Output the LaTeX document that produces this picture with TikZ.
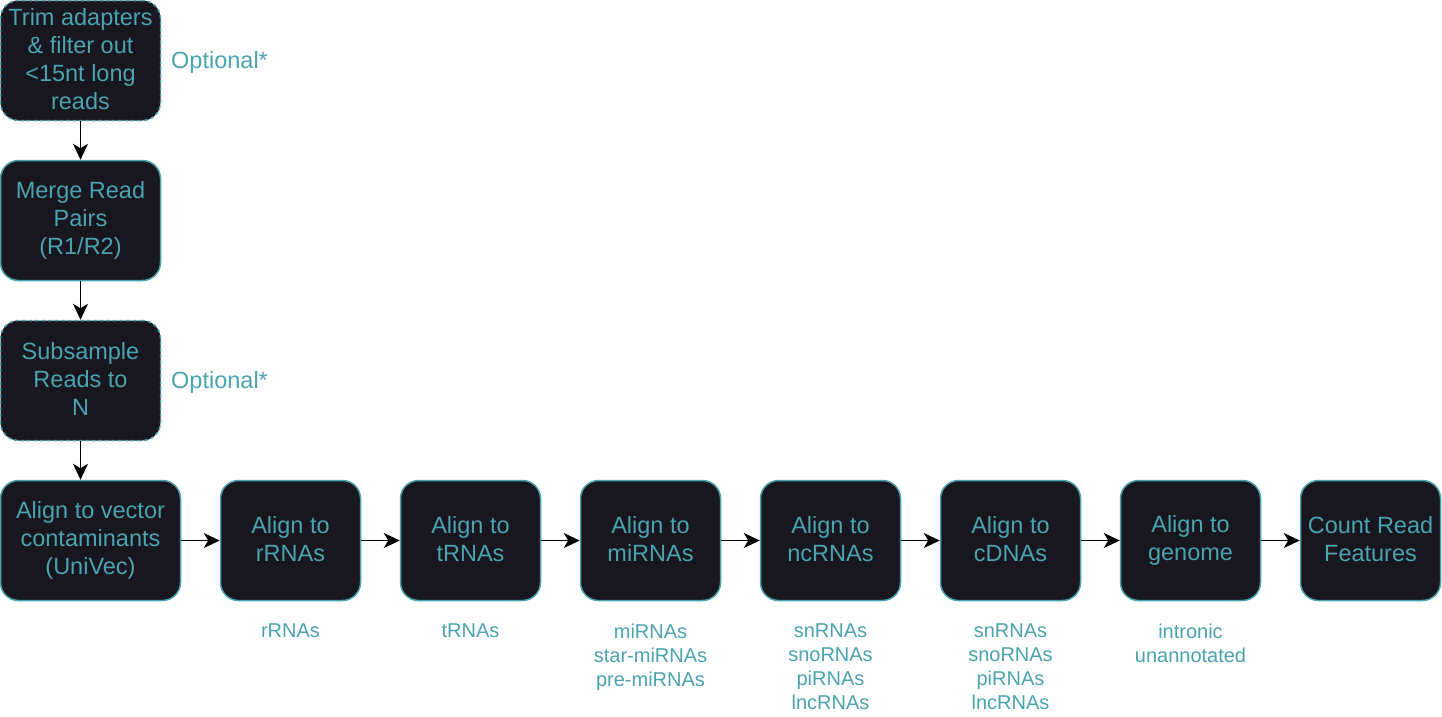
\documentclass[tikz,border=0pt]{standalone}
\usepackage{fontspec}
\setmainfont{Liberation Sans}
\usetikzlibrary{arrows.meta}
\definecolor{boxfill}{HTML}{18171F}
\definecolor{accent}{HTML}{4AA3AE}
% balanced line strut so that multi-line labels sit visually centred
\newcommand{\linestrut}{\rule[-0.12em]{0pt}{1.22em}}
\tikzset{
  stepbox/.style={draw=accent, fill=boxfill, line width=1.5pt, rounded corners=18pt,
    minimum height=120pt, inner sep=0pt, text=accent, align=center,
    font=\fontsize{23.5}{28.2}\selectfont,
    execute at begin node=\linestrut, execute at end node=\linestrut},
  narrowbox/.style={stepbox, minimum width=160pt},
  rowbox/.style={stepbox, minimum width=140pt},
  optbox/.style={dash pattern=on 3.5pt off 3pt},
  flow/.style={draw=black, line width=1.5pt, -{Stealth[length=16pt,width=15pt,inset=4.5pt]}},
  sidenote/.style={text=accent, anchor=west, inner sep=0pt, font=\fontsize{23.5}{28.2}\selectfont},
  kinds/.style={text=accent, anchor=north, align=center, inner sep=0pt, font=\fontsize{20}{24}\selectfont}
}
\begin{document}
\begin{tikzpicture}[x=1pt,y=-1pt]
\useasboundingbox (0,0) rectangle (1442,716);

% preprocessing column
\node[narrowbox, optbox] (trim) at (80.5,60.5) {Trim adapters\\\& filter out\\<15nt long\\reads};
\node[narrowbox] (merge) at (80.5,220.5) {Merge Read\\Pairs\\(R1/R2)};
\node[narrowbox, optbox] (sub) at (80.5,380.5) {Subsample\\Reads to\\N};
\node[sidenote] (opt1) at (171,62.5) {Optional*};
\node[sidenote] (opt2) at (171,382.5) {Optional*};

% alignment chain
\node[stepbox, minimum width=180pt] (vec) at (90.5,540.5) {Align to vector\\contaminants\\(UniVec)};
\node[rowbox] (rrna) at (290.5,540.5) {Align to\\rRNAs};
\node[rowbox] (trna) at (470.5,540.5) {Align to\\tRNAs};
\node[rowbox] (mirna) at (650.5,540.5) {Align to\\miRNAs};
\node[rowbox] (ncrna) at (830.5,540.5) {Align to\\ncRNAs};
\node[rowbox] (cdna) at (1010.5,540.5) {Align to\\cDNAs};
\node[rowbox] (genome) at (1190.5,540.5) {Align to\\genome};
\node[rowbox] (count) at (1370.5,540.5) {Count Read\\Features};

% feature classes under each step
\node[kinds] (krrna) at (290.5,624) {rRNAs};
\node[kinds] (ktrna) at (470.5,624) {tRNAs};
\node[kinds] (kmirna) at (650.5,624) {miRNAs\\star-miRNAs\\pre-miRNAs};
\node[kinds] (kncrna) at (830.5,624) {snRNAs\\snoRNAs\\piRNAs\\lncRNAs};
\node[kinds] (kcdna) at (1010.5,624) {snRNAs\\snoRNAs\\piRNAs\\lncRNAs};
\node[kinds] (kgenome) at (1190.5,624) {intronic\\unannotated};

% connectors
\draw[flow] (trim) -- (merge);
\draw[flow] (merge) -- (sub);
\draw[flow] (sub) -- (vec.north -| sub);
\draw[flow] (vec) -- (rrna);
\draw[flow] (rrna) -- (trna);
\draw[flow] (trna) -- (mirna);
\draw[flow] (mirna) -- (ncrna);
\draw[flow] (ncrna) -- (cdna);
\draw[flow] (cdna) -- (genome);
\draw[flow] (genome) -- (count);
\end{tikzpicture}
\end{document}
